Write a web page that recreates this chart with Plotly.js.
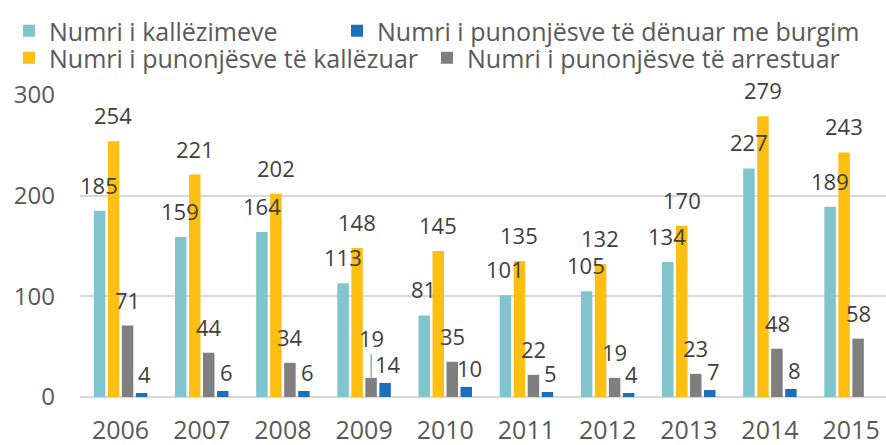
<!DOCTYPE html>
<html>
<head>
<meta charset="utf-8">
<script src="https://cdn.plot.ly/plotly-3.0.1.min.js"></script>
<style>html,body{margin:0;padding:0;background:#fff;}#chart{width:886px;height:445px;}</style>
</head>
<body>
<div id="chart"></div>
<script>
// ---- data ----
const years = ["2006","2007","2008","2009","2010","2011","2012","2013","2014","2015"];
const kallezimeve = [185,159,164,113,81,101,105,134,227,189];
const kallezuar   = [254,221,202,148,145,135,132,170,279,243];
const arrestuar   = [71,44,34,19,35,22,19,23,48,58];
const burgim      = [4,6,6,14,10,5,4,7,8,null];
const seriesNames = [
  "Numri i kallëzimeve",
  "Numri i punonjësve të kallëzuar",
  "Numri i punonjësve të arrestuar",
  "Numri i punonjësve të dënuar me burgim"
];
const yTicks = [0,100,200,300];

// ---- styles ----
const colors = ["#80C4CE","#FDBF12","#7F7F7F","#1F6EBC"];
const legendIds = ["legend","legend3","legend4","legend2"];
const textColor = "#595959";
const FONT = "Open Sans, Liberation Sans, sans-serif";

const seriesData = [kallezimeve, kallezuar, arrestuar, burgim];
const traces = seriesData.map((vals, i) => ({
  type: "bar",
  name: seriesNames[i],
  x: years,
  y: vals,
  marker: {color: colors[i]},
  legend: legendIds[i]
}));

// data labels (positioned from the data through the axes)
const slot = 14.2;
const annotations = [];
for (let i = 0; i < seriesData.length; i++) {
  const vals = seriesData[i];
  for (let j = 0; j < vals.length; j++) {
    const v = vals[j];
    if (v === null) continue;
    const xs = (i - 1.5) * slot + (i === 3 ? 3 : 0);
    const special = (i === 2 && years[j] === "2009");
    const a = {
      x: j, y: v, xref: "x", yref: "y",
      text: String(v),
      xshift: xs,
      font: {family: FONT, size: 22, color: "#404040"}
    };
    if (special) {
      a.showarrow = true; a.arrowhead = 0; a.arrowwidth = 1.5;
      a.arrowcolor = "#A6A6A6"; a.ax = 0; a.ay = -40; a.axref = "pixel"; a.ayref = "pixel"; a.standoff = 0;
    } else {
      a.showarrow = false; a.xanchor = "center"; a.yanchor = "bottom";
      a.yshift = (i === 3 ? 2 : 9);
    }
    annotations.push(a);
  }
}

const legendBase = {
  orientation: "h", xref: "container", yref: "container",
  xanchor: "left", yanchor: "top", bgcolor: "rgba(0,0,0,0)",
  font: {family: FONT, size: 25, color: textColor}
};

const layout = {
  width: 886, height: 445,
  margin: {l: 80, r: 0, t: 95, b: 48},
  paper_bgcolor: "#ffffff", plot_bgcolor: "#ffffff",
  font: {family: FONT, color: textColor},
  barmode: "group", bargap: 0.31, bargroupgap: 0.18,
  showlegend: true,
  legend:  Object.assign({}, legendBase, {x: 9/886,   y: 1 - 8/445}),
  legend2: Object.assign({}, legendBase, {x: 337/886, y: 1 - 8/445}),
  legend3: Object.assign({}, legendBase, {x: 9/886,   y: 1 - 35/445}),
  legend4: Object.assign({}, legendBase, {x: 427/886, y: 1 - 35/445}),
  xaxis: {
    type: "category", range: [-0.5, 9.43], showgrid: false, zeroline: false,
    showline: false, ticks: "", ticklabelstandoff: 16,
    tickfont: {family: FONT, size: 25, color: textColor}
  },
  yaxis: {
    range: [0, 300], tickvals: yTicks, ticktext: yTicks.map(String),
    showgrid: true, gridcolor: "#D9D9D9", gridwidth: 2,
    zeroline: true, zerolinecolor: "#D9D9D9", zerolinewidth: 2,
    showline: false, ticks: "", ticklabelstandoff: 24,
    tickfont: {family: FONT, size: 24, color: textColor}
  },
  annotations: annotations
};

Plotly.newPlot("chart", traces, layout, {displayModeBar: false});
</script>
</body>
</html>
